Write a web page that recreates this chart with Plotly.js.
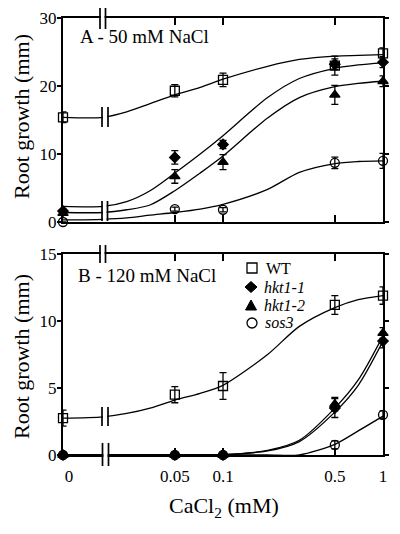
<!DOCTYPE html>
<html>
<head>
<meta charset="utf-8">
<script src="https://cdn.plot.ly/plotly-3.0.1.min.js"></script>
<style>html,body{margin:0;padding:0;background:#fff;}#chart{width:400px;height:534px;}</style>
</head>
<body>
<div id="chart"></div>
<script>
// ---------- data ----------
const concentrations = [0, 0.05, 0.1, 0.5, 1];          // CaCl2 (mM)
const tickLabels = ['\u2002\u20090', '0.05', '0.1', '0.5', '1'];
const seriesNames = ['WT', 'hkt1-1', 'hkt1-2', 'sos3'];

// Panel A - 50 mM NaCl (root growth, mm)
const wtA      = [15.4, 19.3, 20.9, 23.0, 24.8];
const wtA_err  = [0.8, 0.9, 1.0, 1.4, 0.8];
const hkt11A     = [1.6, 9.5, 11.4, 23.2, 23.5];
const hkt11A_err = [0.3, 1.0, 0.6, 0.8, 0.8];
const hkt12A     = [1.3, 6.7, 8.8, 18.7, 20.7];
const hkt12A_err = [0.3, 1.0, 1.1, 1.4, 0.8];
const sos3A     = [0, 1.9, 1.8, 8.7, 9.0];
const sos3A_err = [null, 0.3, 0.3, 0.85, 1.1];

// Panel B - 120 mM NaCl
const wtB      = [2.75, 4.5, 5.15, 11.2, 11.9];
const wtB_err  = [0.6, 0.6, 1.0, 0.7, 0.65];
const hkt11B     = [0, 0, 0, 3.5, 8.5];
const hkt11B_err = [null, null, null, 0.7, 0.5];
const hkt12B     = [0, 0, 0, 3.8, 9.1];
const hkt12B_err = [null, null, null, 0.5, 0.4];
const sos3B     = [0, 0, 0, 0.75, 3.0];
const sos3B_err = [null, null, null, 0.3, 0.3];

// fitted curves (x in concentration; first two = 0 and the axis break)
const ZERO_POS = 0.01;     // where concentration 0 sits on the broken log axis
const BREAK_POS = 0.0178;  // axis break position
const curveX = [ZERO_POS, BREAK_POS, 0.025, 0.035, 0.05, 0.072, 0.1, 0.19, 0.3, 0.5, 0.7, 1];
const fitWtA    = [15.4, 15.4, 16.2, 17.4, 18.7, 19.8, 21.0, 22.9, 23.9, 24.4, 24.5, 24.6];
const fitHkt11A = [2.3, 2.3, 3.0, 4.6, 7.2, 10.0, 12.7, 18.3, 21.1, 22.6, 23.1, 23.4];
const fitHkt12A = [1.4, 1.4, 1.8, 2.5, 4.6, 7.2, 9.7, 15.3, 18.3, 19.9, 20.4, 20.7];
const fitSos3A  = [0.3, 0.4, 0.6, 1.0, 1.4, 1.9, 2.6, 4.8, 7.3, 8.6, 8.9, 9.0];
const fitWtB    = [2.75, 2.85, 3.1, 3.5, 4.1, 4.6, 5.2, 7.5, 9.6, 11.0, 11.6, 11.9];
const fitHkt11B = [0, 0, 0, 0, 0, 0, 0.02, 0.3, 1.0, 3.2, 5.2, 8.5];
const fitHkt12B = [0, 0, 0, 0, 0, 0, 0.02, 0.35, 1.1, 3.5, 5.6, 8.9];
const fitSos3B  = [0, 0, 0, 0, 0, 0, 0, 0, 0, 0.8, 1.8, 2.9];

// ---------- styles ----------
const FONT = 'Liberation Serif, Times New Roman, serif';
const BLACK = '#000';
const pos = c => (c === 0 ? ZERO_POS : c);
const xPos = concentrations.map(pos);

const symbols = {
  'WT':     {symbol: 'square-open', size: 9},
  'hkt1-1': {symbol: 'diamond', size: 8},
  'hkt1-2': {symbol: 'triangle-up', size: 9},
  'sos3':   {symbol: 'circle-open', size: 9}
};

function curve(y, xa, ya) {
  return {x: curveX, y: y, xaxis: xa, yaxis: ya, type: 'scatter', mode: 'lines',
    line: {color: BLACK, width: 1.3, shape: 'spline', smoothing: 0.8},
    showlegend: false, hoverinfo: 'skip', cliponaxis: false};
}
function points(name, y, err, xa, ya) {
  const s = symbols[name];
  return {x: xPos, y: y, xaxis: xa, yaxis: ya, type: 'scatter', mode: 'markers', name: name,
    marker: {symbol: s.symbol, size: s.size, color: BLACK, line: {color: BLACK, width: 1.3}},
    error_y: {type: 'data', array: err, visible: true, color: BLACK, thickness: 1.3, width: 3.5},
    showlegend: false, cliponaxis: false};
}

const traces = [
  curve(fitWtA, 'x', 'y'), curve(fitHkt11A, 'x', 'y'), curve(fitHkt12A, 'x', 'y'), curve(fitSos3A, 'x', 'y'),
  curve(fitWtB, 'x2', 'y2'), curve(fitHkt11B, 'x2', 'y2'), curve(fitHkt12B, 'x2', 'y2'), curve(fitSos3B, 'x2', 'y2'),
  points('WT', wtA, wtA_err, 'x', 'y'),
  points('hkt1-1', hkt11A, hkt11A_err, 'x', 'y'),
  points('hkt1-2', hkt12A, hkt12A_err, 'x', 'y'),
  points('sos3', sos3A, sos3A_err, 'x', 'y'),
  points('WT', wtB, wtB_err, 'x2', 'y2'),
  points('hkt1-1', hkt11B, hkt11B_err, 'x2', 'y2'),
  points('hkt1-2', hkt12B, hkt12B_err, 'x2', 'y2'),
  points('sos3', sos3B, sos3B_err, 'x2', 'y2')
];

// pixel helpers (plot area: x 63..383, y 18..455)
const L = 63, R = 383, T = 18, B = 455;
const xp = px => (px - L) / (R - L);
const yp = py => (B - py) / (B - T);

const shapes = [];
function breakMark(x1, x2, yTop, yBot) {
  shapes.push({type: 'rect', xref: 'paper', yref: 'paper', x0: xp(x1 + 0.9), x1: xp(x2 - 0.9),
    y0: yp(yBot - 1), y1: yp(yTop + 1), fillcolor: '#fff', line: {width: 0}, layer: 'above'});
  [x1, x2].forEach(x => shapes.push({type: 'line', xref: 'paper', yref: 'paper',
    x0: xp(x), x1: xp(x), y0: yp(yBot), y1: yp(yTop), line: {color: BLACK, width: 1.7}, layer: 'above'}));
}
breakMark(100, 105.5, 8, 29);     // panel A top axis
breakMark(102, 108, 107, 127);    // panel A WT curve
breakMark(102, 107.5, 201, 221);  // panel A lower curves
breakMark(100, 105.5, 245, 263);  // panel B top axis
breakMark(102, 108, 407, 426);    // panel B WT curve
breakMark(102.5, 108.5, 443, 466);// panel B bottom

// legend symbols
function sq(cx, cy, h) {
  shapes.push({type: 'rect', xref: 'paper', yref: 'paper', x0: xp(cx - h), x1: xp(cx + h), y0: yp(cy + h), y1: yp(cy - h),
    line: {color: BLACK, width: 1.3}, fillcolor: 'rgba(0,0,0,0)', layer: 'above'});
}
function pathShape(pts, fill) {
  const d = 'M' + pts.map(p => xp(p[0]) + ',' + yp(p[1])).join('L') + 'Z';
  shapes.push({type: 'path', xref: 'paper', yref: 'paper', path: d, fillcolor: fill, line: {color: BLACK, width: 1}, layer: 'above'});
}
sq(252, 268, 5);
pathShape([[251, 281.5], [257, 287], [251, 292.5], [245, 287]], BLACK);
pathShape([[251, 300], [256.5, 310], [245.5, 310]], BLACK);
shapes.push({type: 'circle', xref: 'paper', yref: 'paper', x0: xp(247), x1: xp(257), y0: yp(328), y1: yp(318),
  line: {color: BLACK, width: 1.3}, layer: 'above'});

const ann = (text, px, py, size, extra) => Object.assign({text: text, xref: 'paper', yref: 'paper', x: xp(px), y: yp(py),
  showarrow: false, font: {family: FONT, size: size, color: BLACK}, xanchor: 'left', yanchor: 'middle'}, extra || {});

const annotations = [
  ann('A - 50 mM NaCl', 78, 37, 19),
  ann('B - 120 mM NaCl', 76, 275, 19),
  ann(seriesNames[0], 264, 268, 16),
  ann('<i>' + seriesNames[1] + '</i>', 262, 287, 16),
  ann('<i>' + seriesNames[2] + '</i>', 262, 305, 16),
  ann('<i>' + seriesNames[3] + '</i>', 263, 322, 16),
  ann('Root growth (mm)', 21, 117, 22, {textangle: -90, xanchor: 'center'}),
  ann('Root growth (mm)', 21, 357, 22, {textangle: -90, xanchor: 'center'}),
  ann('CaCl<sub>2</sub> (mM)', 224, 507, 22, {xanchor: 'center'})
];

const xBase = {type: 'log', range: [-2, 0], showgrid: false, zeroline: false, showline: true, linecolor: BLACK, linewidth: 2,
  mirror: 'ticks', ticks: 'inside', ticklen: 7, tickwidth: 1.5, tickcolor: BLACK,
  tickfont: {family: FONT, size: 17, color: BLACK}};
const yBase = {showgrid: false, zeroline: false, showline: true, linecolor: BLACK, linewidth: 2,
  mirror: 'ticks', ticks: 'outside', ticklen: 4, tickwidth: 1.5, tickcolor: BLACK, ticklabelstandoff: -3,
  tickfont: {family: FONT, size: 17, color: BLACK}};

const layout = {
  width: 400, height: 534,
  margin: {l: L, r: 400 - R, t: T, b: 534 - B},
  paper_bgcolor: '#fff', plot_bgcolor: '#fff',
  showlegend: false,
  xaxis: Object.assign({}, xBase, {anchor: 'y', tickvals: [0.05, 0.1, 0.5], showticklabels: false}),
  xaxis2: Object.assign({}, xBase, {anchor: 'y2', tickvals: concentrations.map(pos), ticktext: tickLabels, ticklabelstandoff: 5}),
  yaxis: Object.assign({}, yBase, {domain: [yp(222), 1], range: [0, 30], tickvals: [0, 10, 20, 30], anchor: 'x'}),
  yaxis2: Object.assign({}, yBase, {domain: [0, yp(254)], range: [0, 15], tickvals: [0, 5, 10, 15], anchor: 'x2'}),
  shapes: shapes,
  annotations: annotations
};

Plotly.newPlot('chart', traces, layout, {displayModeBar: false, staticPlot: true});
</script>
</body>
</html>
